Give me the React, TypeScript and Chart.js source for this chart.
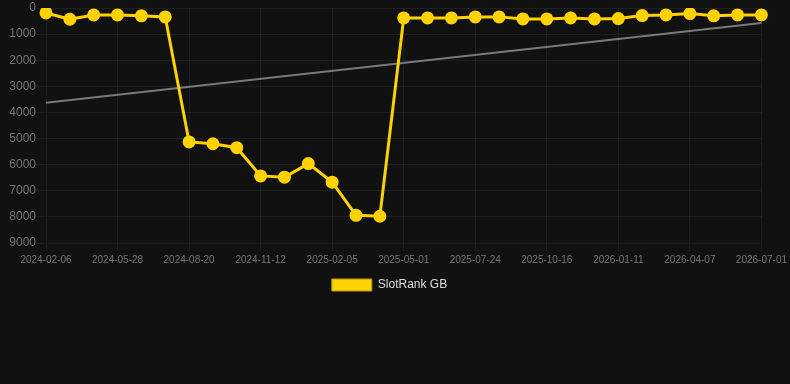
import React, { useEffect, useRef } from "react";
import { Chart, registerables } from "chart.js";

Chart.register(...registerables);

const labels: string[] = [
  "2024-02-06", "2024-03-14", "2024-04-21", "2024-05-28", "2024-06-25", "2024-07-23",
  "2024-08-20", "2024-09-17", "2024-10-15", "2024-11-12", "2024-12-10", "2025-01-08",
  "2025-02-05", "2025-03-07", "2025-04-03", "2025-05-01", "2025-05-29", "2025-06-26",
  "2025-07-24", "2025-08-21", "2025-09-18", "2025-10-16", "2025-11-13", "2025-12-14",
  "2026-01-11", "2026-02-08", "2026-03-10", "2026-04-07", "2026-05-05", "2026-06-03",
  "2026-07-01",
];

const rankValues: number[] = [
  190, 430, 265, 265, 300, 340,
  5130, 5200, 5350, 6430, 6480, 5960,
  6670, 7940, 7975, 380, 380, 380,
  340, 340, 420, 420, 380, 420,
  405, 290, 265, 215, 300, 265,
  265,
];

const trendEnds: number[] = [3630, 570];

const yTicks: number[] = [0, 1000, 2000, 3000, 4000, 5000, 6000, 7000, 8000, 9000];

const legendShift = {
  id: "legendShift",
  afterUpdate(chart: any) {
    const lg = chart.legend;
    if (lg && lg.lineWidths && lg.lineWidths.length) lg.lineWidths[0] += 11;
  },
};

export default function App() {
  const ref = useRef<HTMLCanvasElement | null>(null);

  useEffect(() => {
    document.body.style.margin = "0";
    document.body.style.background = "#111111";
    const trend = labels.map((_, i) =>
      i === 0 ? trendEnds[0] : i === labels.length - 1 ? trendEnds[1] : null
    );
    const font = { family: "'Liberation Sans', Arial, sans-serif" };
    const chart = new Chart(ref.current as HTMLCanvasElement, {
      type: "line",
      plugins: [legendShift],
      data: {
        labels,
        datasets: [
          {
            label: "SlotRank GB",
            data: rankValues,
            borderColor: "#FFD200",
            backgroundColor: "#FFD200",
            borderWidth: 3,
            pointRadius: 5,
            pointHoverRadius: 5,
            pointBackgroundColor: "#FFD200",
            pointBorderColor: "#FFD200",
            tension: 0,
          },
          {
            label: "Trend",
            data: trend,
            borderColor: "rgba(140,140,140,0.85)",
            backgroundColor: "rgba(140,140,140,0.85)",
            borderWidth: 2,
            pointRadius: 0,
            spanGaps: true,
          },
        ],
      },
      options: {
        animation: false,
        responsive: true,
        maintainAspectRatio: false,
        plugins: {
          legend: {
            position: "bottom",
            labels: {
              color: "#dddddd",
              font: { ...font, size: 12 },
              boxWidth: 40,
              boxHeight: 12,
              generateLabels: (c) =>
                Chart.defaults.plugins.legend.labels
                  .generateLabels(c)
                  .filter((it) => it.text !== "Trend")
                  .map((it) => ({ ...it, lineWidth: 1, strokeStyle: "#b89a00" })),
            },
          },
          tooltip: { enabled: false },
        },
        scales: {
          x: {
            grid: { color: "rgba(255,255,255,0.06)" },
            ticks: {
              color: "#777777",
              font: { ...font, size: 10 },
              maxRotation: 0,
              autoSkip: true,
              maxTicksLimit: 11,
            },
          },
          y: {
            reverse: true,
            min: yTicks[0],
            max: yTicks[yTicks.length - 1],
            grid: { color: "rgba(255,255,255,0.06)", tickLength: 10 },
            afterFit: (scale) => {
              scale.width = 46;
            },
            ticks: {
              stepSize: 1000,
              padding: 0,
              color: "#777777",
              font: { ...font, size: 12, lineHeight: 0.85 },
              callback: (v) => String(v),
            },
          },
        },
      },
    });
    return () => chart.destroy();
  }, []);

  return (
    <div style={{ width: 790, height: 384, background: "#111111" }}>
      <div style={{ position: "relative", width: 790, height: 301 }}>
        <canvas ref={ref} />
      </div>
    </div>
  );
}
